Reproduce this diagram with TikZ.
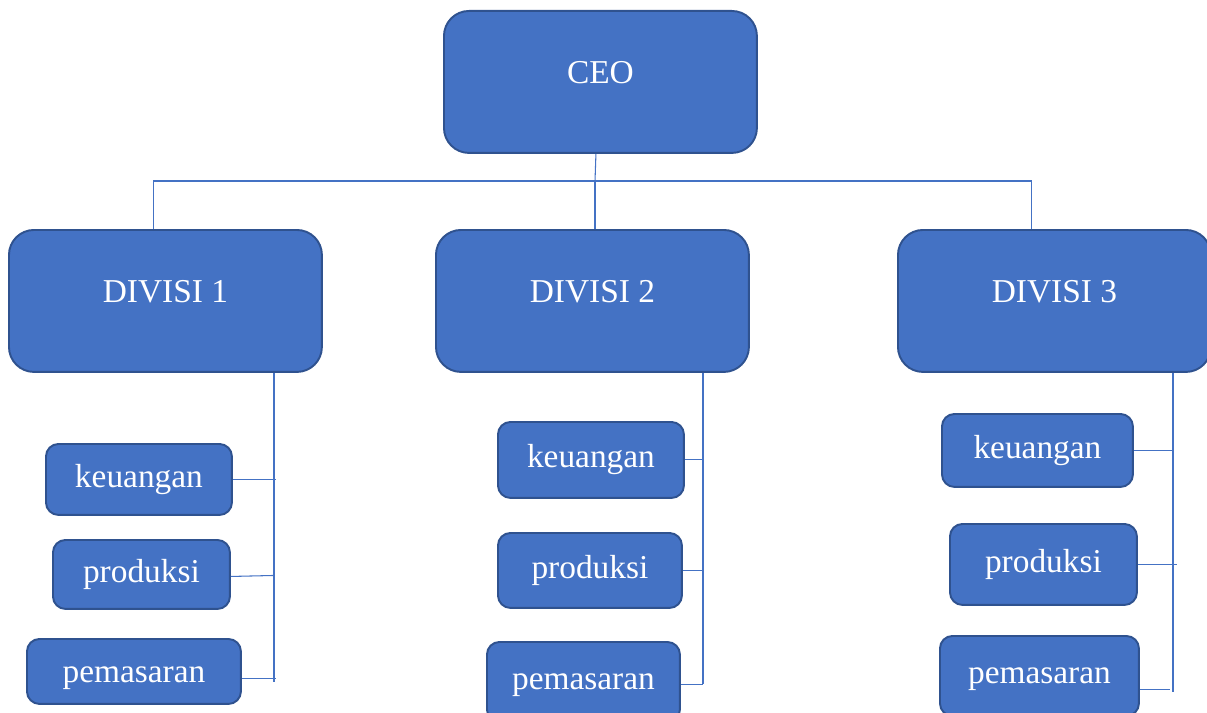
\documentclass[tikz,border=0pt]{standalone}
\usepackage{fontspec}
\setmainfont{Liberation Serif}
\definecolor{boxfill}{HTML}{4472C4}
\definecolor{boxline}{HTML}{2F528F}
\tikzset{
	bigbox/.style={draw=boxline, line width=1.1pt, fill=boxfill, rounded corners=0.5cm, anchor=north west, minimum width=6.26cm, minimum height=2.84cm},
	subbox/.style={draw=boxline, line width=1.1pt, fill=boxfill, rounded corners=0.25cm, text=white, anchor=north west, inner sep=0pt, text height=1.1em, text depth=0.2em},
	boxtext/.style={text=white, yshift=0.19cm},
	link/.style={draw=boxfill, line width=0.6pt}
}
\begin{document}
\begin{tikzpicture}[x=0.02cm, y=-0.02cm, font=\fontsize{19}{22}\selectfont]

				\useasboundingbox (0,0) rectangle (1207,713);

				% top and divisions
				\node[bigbox, label={[boxtext]center:CEO}] (ceo) at (443,10) {};
				\node[bigbox, label={[boxtext]center:DIVISI 1}] (d1) at (8,229) {};
				\node[bigbox, label={[boxtext]center:DIVISI 2}] (d2) at (435,229) {};
				\node[bigbox, label={[boxtext]center:DIVISI 3}] (d3) at (897,229) {};

				\coordinate (bus) at (595,181);
				\draw[link] ([xshift=-0.09cm]ceo.south) -- (bus);
				\draw[link] ([xshift=-0.23cm]d1.north) |- (bus) -| ([xshift=-0.45cm]d3.north);
				\draw[link] (bus) -- (bus |- d2.north);

				% divisi 1
				\node[subbox, minimum width=3.72cm, minimum height=1.42cm] (k1) at (45,443) {keuangan};
				\node[subbox, minimum width=3.54cm, minimum height=1.38cm] (p1) at (52,539) {produksi};
				\node[subbox, minimum width=4.28cm, minimum height=1.30cm, text height=1.5em] (m1) at (26,638) {pemasaran};
				\coordinate (s1) at (274,682);
				\draw[link] (d1.south -| s1) -- (s1);
				\draw[link] (k1.east) -- ([xshift=0.04cm]k1.east -| s1);
				\draw[link] ([yshift=-0.04cm]p1.east) -- ([yshift=-0.02cm]p1.east -| s1);
				\draw[link] ([yshift=-0.14cm]m1.east) -- ([yshift=-0.14cm,xshift=0.04cm]m1.east -| s1);

				% divisi 2
				\node[subbox, minimum width=3.72cm, minimum height=1.52cm] (k2) at (497,421) {keuangan};
				\node[subbox, minimum width=3.68cm, minimum height=1.50cm] (p2) at (497,532) {produksi};
				\node[subbox, minimum width=3.86cm, minimum height=1.60cm] (m2) at (486,641) {pemasaran};
				\coordinate (s2) at (703,684);
				\draw[link] (d2.south -| s2) -- (s2);
				\draw[link] (k2.east) -- (k2.east -| s2);
				\draw[link] (p2.east) -- (p2.east -| s2);
				\draw[link] ([yshift=-0.06cm]m2.east) -- ([yshift=-0.06cm]m2.east -| s2);

				% divisi 3
				\node[subbox, minimum width=3.82cm, minimum height=1.46cm] (k3) at (941,413) {keuangan};
				\node[subbox, minimum width=3.74cm, minimum height=1.62cm] (p3) at (949,523) {produksi};
				\node[subbox, minimum width=3.98cm, minimum height=1.60cm] (m3) at (939,635) {pemasaran};
				\coordinate (s3) at (1173,692);
				\draw[link] (d3.south -| s3) -- (s3);
				\draw[link] (k3.east) -- (k3.east -| s3);
				\draw[link] (p3.east) -- ([xshift=0.08cm]p3.east -| s3);
				\draw[link] ([yshift=-0.28cm]m3.east) -- ([yshift=-0.28cm,xshift=-0.06cm]m3.east -| s3);

\end{tikzpicture}
\end{document}
